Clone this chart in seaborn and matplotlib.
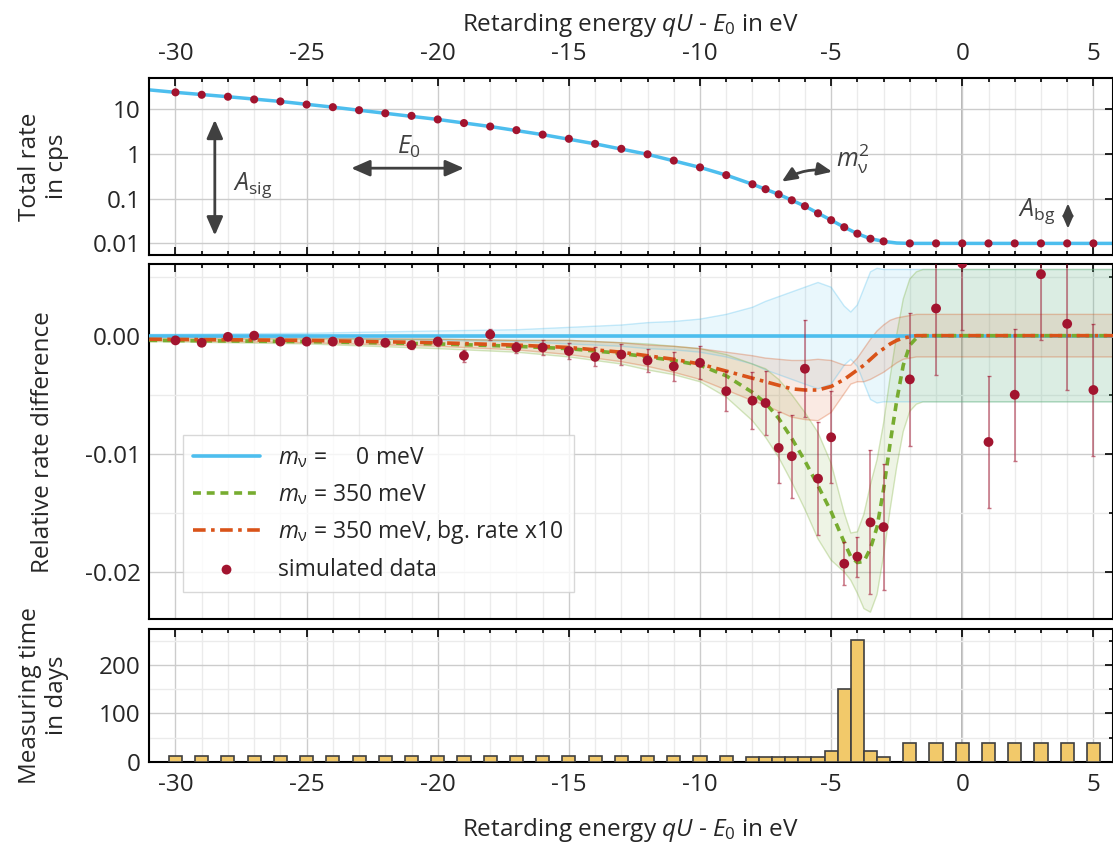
import matplotlib
matplotlib.use("Agg")
import matplotlib.pyplot as plt
import seaborn as sns
import numpy as np
from matplotlib.ticker import MultipleLocator, FixedLocator, LogLocator, NullFormatter

# scan steps, retarding energy qU - E0 in eV
scan_x = [-30, -29, -28, -27, -26, -25, -24, -23, -22, -21, -20, -19, -18, -17, -16,
          -15, -14, -13, -12, -11, -10, -9, -8, -7.5, -7, -6.5, -6, -5.5, -5, -4.5,
          -4, -3.5, -3, -2, -1, 0, 1, 2, 3, 4, 5]
scan_rate = [23.8, 21.0, 19.0, 16.5, 14.9, 12.7, 11.1, 9.5, 8.1, 7.1, 5.9, 4.9, 4.1, 3.4, 2.7,
             2.18, 1.68, 1.30, 0.98, 0.71, 0.50, 0.336, 0.21, 0.163, 0.125, 0.092, 0.068, 0.047,
             0.033, 0.023, 0.0165, 0.0127, 0.0111, 0.010, 0.010, 0.010, 0.010, 0.010, 0.010,
             0.010, 0.010]
scan_days = [12] * 22 + [10, 10, 10, 10, 10, 10, 23, 151, 252, 23, 10] + [38] * 8
sim_diff = [-0.0004, -0.0006, -0.0001, 0.0000, -0.0005, -0.0005, -0.0005, -0.0005, -0.0006,
            -0.0008, -0.0005, -0.0017, 0.0001, -0.0010, -0.0010, -0.0013, -0.0018, -0.0016,
            -0.0021, -0.0026, -0.0023, -0.0047, -0.0055, -0.0057, -0.0095, -0.0102, -0.0028,
            -0.0121, -0.0086, -0.0193, -0.0187, -0.0158, -0.0162, -0.0037, 0.0023, 0.0061,
            -0.0090, -0.0050, 0.0052, 0.0010, -0.0046]
sim_err = [0.0002, 0.0002, 0.0002, 0.0002, 0.0002, 0.0003, 0.0003, 0.0003, 0.0003, 0.0003,
           0.0004, 0.0005, 0.0005, 0.0005, 0.0006, 0.0007, 0.0008, 0.0009, 0.0010, 0.0012,
           0.0014, 0.0017, 0.0024, 0.0027, 0.0030, 0.0035, 0.0041, 0.0048, 0.0039, 0.0018,
           0.0017, 0.0061, 0.0053] + [0.0056] * 8

# model spectrum (total rate)
rate_model_x = [-31, -30, -28, -26, -24, -22, -20, -18, -16, -14, -12, -10, -9, -8, -7, -6,
                -5, -4.5, -4, -3.5, -3, -2.5, -2, 5.75]
rate_model = [27, 23.8, 19.0, 14.9, 11.1, 8.1, 5.9, 4.1, 2.7, 1.68, 0.98, 0.50, 0.336, 0.21,
              0.125, 0.068, 0.033, 0.023, 0.0165, 0.0127, 0.0111, 0.0102, 0.0100, 0.0100]

# relative rate difference of the models
diff_x = [-31, -25, -20, -17, -15, -13, -12, -11, -10, -9, -8, -7.5, -7, -6.5, -6, -5.5, -5,
          -4.75, -4.5, -4.25, -4, -3.75, -3.5, -3.25, -3, -2.75, -2.5, -2.25, -2, -1.75,
          -1.5, -1, 5.75]
diff_m0 = [0.0] * 33
diff_m350 = [-0.0004, -0.0005, -0.0007, -0.0009, -0.0011, -0.0015, -0.0018, -0.0021, -0.0025,
             -0.0034, -0.0048, -0.0057, -0.0070, -0.0087, -0.0106, -0.0127, -0.0149, -0.0162,
             -0.0175, -0.0187, -0.0192, -0.0191, -0.0180, -0.0162, -0.0130, -0.0091, -0.0055,
             -0.0025, -0.0008, -0.0002, 0.0, 0.0, 0.0]
diff_m350_bg = [-0.0003, -0.0004, -0.0006, -0.0008, -0.0010, -0.0014, -0.0017, -0.0020, -0.0024,
                -0.0030, -0.0036, -0.0039, -0.0042, -0.0045, -0.0046, -0.0046, -0.0043, -0.0040,
                -0.0037, -0.0033, -0.0029, -0.0025, -0.0020, -0.0015, -0.0011, -0.0007, -0.0004,
                -0.0002, -0.0001, 0.0, 0.0, 0.0, 0.0]
# 1 sigma band half widths
band_stat = [0.0001, 0.0002, 0.0004, 0.0005, 0.0007, 0.0009, 0.0011, 0.0012, 0.0014, 0.0018,
             0.0024, 0.0029, 0.0033, 0.0037, 0.0041, 0.0045, 0.0041, 0.0033, 0.0025, 0.0020,
             0.0026, 0.0040, 0.0054, 0.0057, 0.0056, 0.0056, 0.0056, 0.0056, 0.0056, 0.0056,
             0.0056, 0.0056, 0.0056]
band_bg = [0.0001, 0.0002, 0.0003, 0.0004, 0.0006, 0.0008, 0.0009, 0.0011, 0.0013, 0.0016,
           0.0019, 0.0020, 0.0022, 0.0024, 0.0025, 0.0026, 0.0022, 0.0017, 0.0012, 0.0008,
           0.0010, 0.0014, 0.0017, 0.0019, 0.0020, 0.0020, 0.0019, 0.0018, 0.0018, 0.0018,
           0.0018, 0.0018, 0.0018]

BLUE = "#4DBEEE"
GREEN = "#77AC30"
ORANGE = "#D95319"
RED = "#A2142F"
YELLOW = "#F2C96A"
DARK = "#404040"
FS = 17.5

sns.set_theme(style="white")
plt.rcParams["font.family"] = ["Open Sans", "DejaVu Sans"]
plt.rcParams["mathtext.fontset"] = "custom"
plt.rcParams["mathtext.rm"] = "Open Sans"
plt.rcParams["mathtext.it"] = "Open Sans:italic"
plt.rcParams["axes.unicode_minus"] = False
plt.rcParams["font.size"] = FS

fig = plt.figure(figsize=(11.13, 8.43), dpi=100)
left, width = 0.1341, 0.8655
ax1 = fig.add_axes([left, 0.6975, width, 0.2096])
ax2 = fig.add_axes([left, 0.2654, width, 0.4211])
ax3 = fig.add_axes([left, 0.0964, width, 0.1578])

xlim = (-31, 5.73)
for ax in (ax1, ax2, ax3):
    ax.set_xlim(*xlim)
    ax.xaxis.set_major_locator(MultipleLocator(5))
    ax.xaxis.set_minor_locator(MultipleLocator(1))
    ax.tick_params(which="both", direction="in", top=True, right=True, labelsize=FS,
                   width=1.2, color="black")
    ax.tick_params(which="major", length=6, pad=6)
    ax.tick_params(which="minor", length=3)
    for s in ax.spines.values():
        s.set_color("black")
        s.set_linewidth(1.5)
    ax.set_axisbelow(True)
    ax.grid(which="major", color="#cccccc", lw=1)
    ax.xaxis.grid(True, which="minor", color="#ebebeb", lw=1)
    ax.axvline(0, color="#a8a8a8", lw=1.2, zorder=0.5)

# --- top: total rate ---
sns.lineplot(x=rate_model_x, y=rate_model, ax=ax1, color=BLUE, lw=2.5, sort=False,
             estimator=None)
sns.scatterplot(x=scan_x, y=scan_rate, ax=ax1, color=RED, s=34, edgecolor="none", zorder=3)
ax1.set_yscale("log")
ax1.set_ylim(0.0055, 49)
ax1.yaxis.set_major_locator(FixedLocator([0.01, 0.1, 1, 10]))
ax1.set_yticklabels(["0.01", "0.1", "1", "10"])
ax1.yaxis.set_minor_locator(LogLocator(subs=np.arange(2, 10)))
ax1.yaxis.set_minor_formatter(NullFormatter())
ax1.yaxis.grid(False, which="minor")
ax1.xaxis.tick_top()
ax1.tick_params(which="both", bottom=True, top=True, labelbottom=False, labeltop=True)
ax1.tick_params(axis="x", pad=9)
ax1.xaxis.set_label_position("top")
ax1.set_xlabel("Retarding energy $qU$ - $E_0$ in eV", fontsize=FS, labelpad=8)
ax1.set_ylabel("Total rate\nin cps", fontsize=FS, ha="center")

arrow = dict(arrowstyle="<|-|>,head_length=0.8,head_width=0.35", color=DARK, lw=2,
             shrinkA=0, shrinkB=0, mutation_scale=14)
ax1.annotate("", xy=(-28.5, 0.015), xytext=(-28.5, 5.8), arrowprops=arrow)
ax1.text(-27.8, 0.2, r"$A_\mathrm{sig}$", fontsize=18, color=DARK, va="center")
ax1.annotate("", xy=(-19.0, 0.48), xytext=(-23.3, 0.48), arrowprops=arrow)
ax1.text(-21.1, 1.45, r"$E_0$", fontsize=18, color=DARK, ha="center", va="center")
ax1.annotate("", xy=(-4.96, 0.40), xytext=(-6.88, 0.24),
             arrowprops=dict(arrow, connectionstyle="arc3,rad=-0.2", mutation_scale=11))
ax1.text(-4.8, 0.75, r"$m^2_\mathrm{\nu}$", fontsize=18, color=DARK, va="center")
ax1.annotate("", xy=(4.03, 0.0215), xytext=(4.03, 0.078),
             arrowprops=dict(arrow, mutation_scale=9, lw=1.6))
ax1.text(2.85, 0.052, r"$A_\mathrm{bg}$", fontsize=18, color=DARK, ha="center", va="center")

# --- middle: relative rate difference ---
curves = [(diff_m0, band_stat, BLUE, "-", r"$m_\mathrm{\nu}$ =     0 meV"),
          (diff_m350, band_stat, GREEN, (0, (2.2, 1.6)), r"$m_\mathrm{\nu}$ = 350 meV"),
          (diff_m350_bg, band_bg, ORANGE, (0, (3.5, 1.5, 1, 1.5)),
           r"$m_\mathrm{\nu}$ = 350 meV, bg. rate x10")]
handles = []
for y, h, c, ls, lab in curves:
    y = np.array(y)
    h = np.array(h)
    ax2.fill_between(diff_x, y - h, y + h, facecolor=c, alpha=0.12, edgecolor="none")
    ax2.plot(diff_x, y + h, color=c, alpha=0.3, lw=1)
    ax2.plot(diff_x, y - h, color=c, alpha=0.3, lw=1)
for y, h, c, ls, lab in curves:
    sns.lineplot(x=diff_x, y=y, ax=ax2, color=c, lw=2.6, linestyle=ls, sort=False,
                 estimator=None, zorder=3)
    handles.append(ax2.lines[-1])
    handles[-1].set_label(lab)
ax2.errorbar(scan_x, sim_diff, yerr=sim_err, fmt="none", ecolor=RED, alpha=0.6, lw=1.1,
             capsize=1.5, zorder=4)
sns.scatterplot(x=scan_x, y=sim_diff, ax=ax2, color=RED, s=50, edgecolor="none", zorder=5,
                label="simulated data")
sc = ax2.collections[-1]
ax2.set_ylim(-0.024, 0.00604)
ax2.yaxis.set_minor_locator(MultipleLocator(0.005))
ax2.set_yticks([-0.02, -0.01, 0.0])
ax2.set_yticklabels(["-0.02", "-0.01", "0.00"])
ax2.yaxis.grid(True, which="minor", color="#ebebeb", lw=1)
ax2.tick_params(labelbottom=False)
ax2.set_ylabel("Relative rate difference", fontsize=FS)
leg = ax2.legend(handles=handles + [sc], loc="lower left", bbox_to_anchor=(0.035, 0.077),
                 frameon=True, fancybox=False, fontsize=16.5, handlelength=2.9,
                 labelspacing=0.5, borderpad=0.45, handletextpad=0.8, borderaxespad=0)
leg.get_frame().set_edgecolor("#cfcfcf")
leg.get_frame().set_linewidth(1)

# --- bottom: measuring time ---
ax3.bar(scan_x, scan_days, width=0.5, color=YELLOW, edgecolor=DARK, lw=1.2, zorder=3)
ax3.set_ylim(0, 275)
ax3.yaxis.set_major_locator(MultipleLocator(100))
ax3.yaxis.set_minor_locator(MultipleLocator(50))
ax3.yaxis.grid(True, which="minor", color="#ebebeb", lw=1)
ax3.tick_params(axis="x", pad=8)
ax3.set_xlabel("Retarding energy $qU$ - $E_0$ in eV", fontsize=FS, labelpad=14)
ax3.set_ylabel("Measuring time\nin days", fontsize=FS, ha="center")

ax1.yaxis.set_label_coords(-0.083, 0.5)
ax2.yaxis.set_label_coords(-0.098, 0.5)
ax3.yaxis.set_label_coords(-0.083, 0.5)

fig.savefig("out.png", dpi=100)
